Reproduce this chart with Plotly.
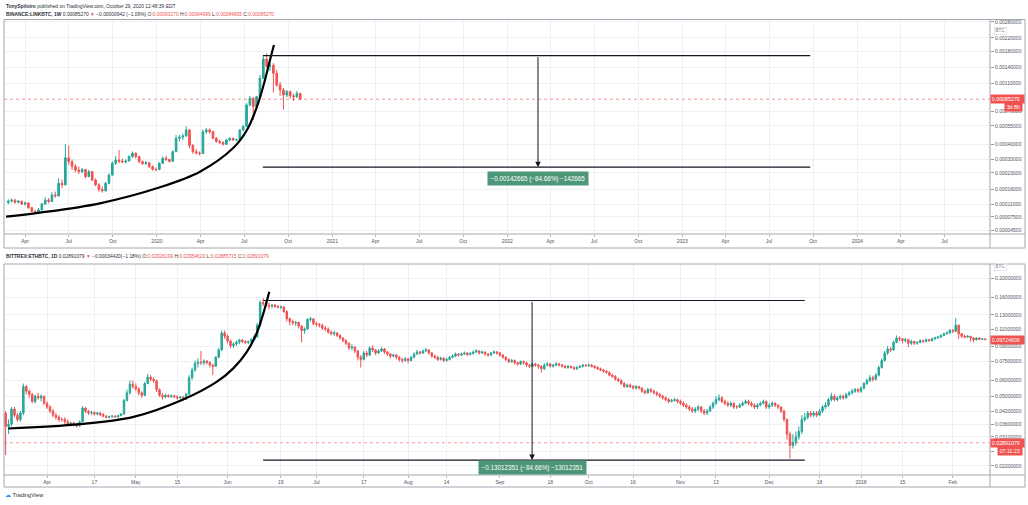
import math
import pandas as pd
import plotly.graph_objects as go

# ---------------- LINK/BTC weekly (Binance) ----------------
link_first_week = "2019-02-25"
link_open = [0.000116, 0.000120, 0.000123, 0.000116, 0.000119, 0.000111, 0.000114, 0.000100, 0.000090, 0.000087,
             0.000094, 0.000111, 0.000123, 0.000119, 0.000140, 0.000137, 0.000184, 0.000178, 0.000310, 0.000288,
             0.000262, 0.000244, 0.000236, 0.000246, 0.000213, 0.000236, 0.000198, 0.000178, 0.000160, 0.000155,
             0.000184, 0.000220, 0.000279, 0.000297, 0.000290, 0.000286, 0.000292, 0.000317, 0.000338, 0.000317,
             0.000288, 0.000277, 0.000282, 0.000261, 0.000248, 0.000246, 0.000279, 0.000307, 0.000300, 0.000290,
             0.000348, 0.000443, 0.000452, 0.000462, 0.000512, 0.000390, 0.000348, 0.000340, 0.000336, 0.000497,
             0.000512, 0.000497, 0.000443, 0.000418, 0.000412, 0.000398, 0.000430, 0.000443, 0.000430, 0.000432,
             0.000512, 0.000543, 0.000777, 0.000866, 0.000755, 0.000888, 0.001188, 0.001600, 0.001430, 0.001450,
             0.001283, 0.001070, 0.000988, 0.000912, 0.000962, 0.000900, 0.000888, 0.000933]
link_high = [0.000125, 0.000128, 0.000127, 0.000124, 0.000122, 0.000118, 0.000116, 0.000103, 0.000094, 0.000099,
             0.000115, 0.000132, 0.000130, 0.000150, 0.000152, 0.000205, 0.000200, 0.000400, 0.000390, 0.000300,
             0.000275, 0.000262, 0.000255, 0.000250, 0.000245, 0.000240, 0.000205, 0.000185, 0.000172, 0.000190,
             0.000228, 0.000290, 0.000320, 0.000360, 0.000305, 0.000300, 0.000325, 0.000350, 0.000345, 0.000322,
             0.000295, 0.000292, 0.000286, 0.000268, 0.000258, 0.000285, 0.000318, 0.000322, 0.000305, 0.000355,
             0.000470, 0.000470, 0.000480, 0.000545, 0.000520, 0.000400, 0.000365, 0.000350, 0.000515, 0.000530,
             0.000525, 0.000505, 0.000452, 0.000432, 0.000420, 0.000438, 0.000450, 0.000448, 0.000440, 0.000520,
             0.000560, 0.000800, 0.000900, 0.000880, 0.000900, 0.001250, 0.001680, 0.001746, 0.001520, 0.001500,
             0.001350, 0.001120, 0.001020, 0.000990, 0.000980, 0.000930, 0.000975, 0.000950]
link_low = [0.000110, 0.000116, 0.000112, 0.000113, 0.000108, 0.000106, 0.000097, 0.000087, 0.000083, 0.000085,
            0.000092, 0.000108, 0.000113, 0.000117, 0.000131, 0.000135, 0.000165, 0.000176, 0.000270, 0.000245,
            0.000232, 0.000225, 0.000228, 0.000205, 0.000210, 0.000192, 0.000172, 0.000152, 0.000148, 0.000152,
            0.000180, 0.000215, 0.000270, 0.000280, 0.000280, 0.000278, 0.000288, 0.000310, 0.000305, 0.000280,
            0.000270, 0.000270, 0.000255, 0.000240, 0.000238, 0.000244, 0.000275, 0.000292, 0.000282, 0.000286,
            0.000345, 0.000420, 0.000430, 0.000455, 0.000370, 0.000335, 0.000330, 0.000325, 0.000334, 0.000480,
            0.000480, 0.000435, 0.000410, 0.000400, 0.000390, 0.000395, 0.000422, 0.000422, 0.000420, 0.000428,
            0.000500, 0.000540, 0.000760, 0.000606, 0.000740, 0.000880, 0.001170, 0.001400, 0.001330, 0.000950,
            0.001040, 0.000900, 0.000720, 0.000880, 0.000860, 0.000830, 0.000870, 0.000848]
link_close = [0.000120, 0.000123, 0.000116, 0.000119, 0.000111, 0.000114, 0.000100, 0.000090, 0.000087, 0.000094,
              0.000111, 0.000123, 0.000119, 0.000140, 0.000137, 0.000184, 0.000178, 0.000310, 0.000288, 0.000262,
              0.000244, 0.000236, 0.000246, 0.000213, 0.000236, 0.000198, 0.000178, 0.000160, 0.000155, 0.000184,
              0.000220, 0.000279, 0.000297, 0.000290, 0.000286, 0.000292, 0.000317, 0.000338, 0.000317, 0.000288,
              0.000277, 0.000282, 0.000261, 0.000248, 0.000246, 0.000279, 0.000307, 0.000300, 0.000290, 0.000348,
              0.000443, 0.000452, 0.000462, 0.000512, 0.000390, 0.000348, 0.000340, 0.000336, 0.000497, 0.000512,
              0.000497, 0.000443, 0.000418, 0.000412, 0.000398, 0.000430, 0.000443, 0.000430, 0.000432, 0.000512,
              0.000543, 0.000777, 0.000866, 0.000755, 0.000888, 0.001188, 0.001600, 0.001430, 0.001450, 0.001283,
              0.001070, 0.000988, 0.000912, 0.000962, 0.000900, 0.000888, 0.000933, 0.00085270]
link_last_price = 0.00085270
link_price_ticks = [0.0028, 0.0022, 0.0018, 0.0014, 0.0011, 0.0007, 0.00055, 0.0004, 0.0003,
                    0.00023, 0.00016, 0.00011, 0.000075, 0.000045]
link_time_ticks = ["2019-04-01", "2019-07-01", "2019-10-01", "2020-01-01", "2020-04-01", "2020-07-01",
                   "2020-10-01", "2021-01-01", "2021-04-01", "2021-07-01", "2021-10-01", "2022-01-01",
                   "2022-04-01", "2022-07-01", "2022-10-01", "2023-01-01", "2023-04-01", "2023-07-01",
                   "2023-10-01", "2024-01-01", "2024-04-01", "2024-07-01"]
link_time_labels = ["Apr", "Jul", "Oct", "2020", "Apr", "Jul", "Oct", "2021", "Apr", "Jul", "Oct", "2022",
                    "Apr", "Jul", "Oct", "2023", "Apr", "Jul", "Oct", "2024", "Apr", "Jul"]
link_curve_dates = ["2019-02-20 07:00", "2019-05-01 19:00", "2019-09-04", "2020-01-07 07:00",
                    "2020-03-30 19:00", "2020-06-07 14:00", "2020-07-06 22:00", "2020-07-27 17:00",
                    "2020-08-13 10:00", "2020-08-23 22:00", "2020-09-01 05:00"]
link_curve_prices = [0.0000757, 0.0000861, 0.0001131, 0.0001683, 0.0002358, 0.00037, 0.000512,
                     0.000755, 0.001157, 0.001576, 0.001979]
link_measure_dates = ["2020-08-09", "2022-03-06", "2023-09-25"]   # start, arrow, end
link_measure_prices = [0.00168515, 0.00025850]                    # from, to
link_measure_text = "−0.00142665 (−84.66%) −142665"

# ---------------- ETH/BTC daily (Bittrex) ----------------
eth_first_day = "2017-03-18"
eth_open = [.0410, .0350, .0360, .0430, .0400, .0380, .0410, .0560, .0530, .0510,
            .0470, .0500, .0490, .0500, .0460, .0440, .0420, .0400, .0390, .0380,
            .0380, .0370, .0360, .0365, .0358, .0352, .0370, .0435, .0418, .0410,
            .0412, .0405, .0410, .0402, .0395, .0390, .0393, .0396, .0392, .0398,
            .0406, .0475, .0520, .0575, .0560, .0545, .0520, .0505, .0580, .0625,
            .0610, .0600, .0540, .0505, .0495, .0505, .0498, .0502, .0496, .0490,
            .0495, .0482, .0512, .0620, .0680, .0735, .0745, .0740, .0755, .0742,
            .0720, .0710, .0790, .0860, .1050, .1010, .0955, .0905, .0925, .0945,
            .0965, .0950, .0940, .0948, .0970, .1005, .1150, .1500, .1480, .1450,
            .1440, .1455, .1430, .1420, .1425, .1350, .1240, .1200, .1180, .1190,
            .1140, .1080, .1100, .1230, .1240, .1170, .1160, .1150, .1110, .1100,
            .1060, .1040, .1050, .1020, .0990, .0960, .0930, .0880, .0890, .0850,
            .0790, .0770, .0830, .0810, .0880, .0860, .0830, .0850, .0870, .0840,
            .0820, .0800, .0810, .0790, .0770, .0760, .0775, .0760, .0790, .0820,
            .0840, .0830, .0850, .0860, .0830, .0800, .0790, .0770, .0780, .0760,
            .0770, .0790, .0800, .0820, .0810, .0820, .0830, .0815, .0825, .0840,
            .0850, .0830, .0840, .0820, .0810, .0830, .0840, .0830, .0810, .0790,
            .0770, .0750, .0760, .0740, .0730, .0750, .0740, .0720, .0710, .0730,
            .0720, .0710, .0690, .0720, .0730, .0710, .0720, .0730, .0720, .0710,
            .0700, .0710, .0700, .0690, .0700, .0710, .0720, .0715, .0720, .0710,
            .0700, .0690, .0680, .0670, .0660, .0640, .0630, .0610, .0600, .0580,
            .0560, .0570, .0560, .0550, .0560, .0550, .0530, .0520, .0540, .0530,
            .0520, .0510, .0500, .0490, .0480, .0470, .0475, .0480, .0470, .0460,
            .0450, .0440, .0430, .0420, .0430, .0440, .0420, .0410, .0420, .0440,
            .0460, .0480, .0490, .0470, .0460, .0450, .0460, .0440, .0440, .0450,
            .0460, .0470, .0460, .0450, .0440, .0450, .0460, .0470, .0440, .0450,
            .0460, .0450, .0440, .0420, .0380, .0320, .0280, .0290, .0310, .0330,
            .0380, .0390, .0410, .0400, .0410, .0400, .0420, .0440, .0450, .0480,
            .0500, .0480, .0490, .0500, .0490, .0510, .0520, .0530, .0540, .0530,
            .0550, .0580, .0600, .0620, .0610, .0640, .0700, .0760, .0830, .0870,
            .0860, .0940, .0990, .0980, .0960, .0970, .0930, .0950, .0930, .0940,
            .0960, .0950, .0970, .0960, .0980, .0990, .1000, .1020, .1040, .1050,
            .1080, .1070, .1150, .1040, .1010, .1000, .1010, .0990, .0970, .0990,
            .0975, .0980]
eth_high = [.0420, .0380, .0440, .0440, .0410, .0420, .0580, .0570, .0540, .0520,
            .0510, .0520, .0510, .0500, .0470, .0450, .0430, .0410, .0400, .0390,
            .0390, .0380, .0370, .0370, .0365, .0375, .0445, .0440, .0425, .0420,
            .0418, .0415, .0415, .0410, .0400, .0398, .0400, .0400, .0402, .0410,
            .0485, .0540, .0600, .0600, .0580, .0555, .0530, .0590, .0650, .0640,
            .0625, .0605, .0548, .0520, .0515, .0512, .0510, .0508, .0505, .0500,
            .0500, .0520, .0640, .0700, .0760, .0780, .0850, .0770, .0765, .0755,
            .0730, .0800, .0880, .1080, .1080, .1030, .0970, .0940, .0960, .0980,
            .0980, .0965, .0960, .0990, .1030, .1180, .1540, .1580, .1520, .1500,
            .1470, .1480, .1460, .1450, .1440, .1370, .1260, .1230, .1210, .1200,
            .1150, .1120, .1250, .1270, .1250, .1200, .1180, .1170, .1140, .1120,
            .1080, .1075, .1060, .1035, .1000, .0975, .0940, .0920, .0900, .0860,
            .0810, .0850, .0850, .0900, .0910, .0870, .0870, .0890, .0880, .0850,
            .0830, .0825, .0820, .0800, .0785, .0790, .0785, .0800, .0835, .0860,
            .0850, .0865, .0880, .0870, .0840, .0815, .0800, .0795, .0790, .0785,
            .0800, .0815, .0835, .0830, .0835, .0845, .0840, .0840, .0855, .0870,
            .0860, .0855, .0845, .0830, .0840, .0855, .0850, .0840, .0820, .0800,
            .0780, .0775, .0770, .0750, .0760, .0760, .0750, .0730, .0740, .0740,
            .0730, .0720, .0735, .0745, .0740, .0730, .0745, .0740, .0730, .0720,
            .0720, .0715, .0710, .0710, .0720, .0730, .0730, .0735, .0730, .0720,
            .0710, .0700, .0690, .0680, .0670, .0650, .0640, .0620, .0610, .0590,
            .0580, .0580, .0570, .0570, .0565, .0555, .0540, .0550, .0550, .0540,
            .0530, .0520, .0510, .0500, .0490, .0485, .0490, .0485, .0480, .0470,
            .0460, .0450, .0440, .0440, .0450, .0445, .0430, .0430, .0450, .0470,
            .0500, .0510, .0500, .0480, .0470, .0470, .0465, .0450, .0460, .0470,
            .0480, .0480, .0470, .0460, .0460, .0470, .0480, .0475, .0460, .0470,
            .0465, .0455, .0445, .0425, .0385, .0330, .0320, .0330, .0350, .0400,
            .0410, .0420, .0420, .0420, .0420, .0430, .0450, .0465, .0490, .0520,
            .0510, .0500, .0510, .0510, .0520, .0530, .0545, .0550, .0550, .0560,
            .0590, .0615, .0640, .0635, .0655, .0715, .0780, .0850, .0900, .0890,
            .0960, .1020, .1010, .0990, .0990, .0980, .0970, .0960, .0955, .0975,
            .0970, .0985, .0980, .0995, .1005, .1015, .1035, .1055, .1070, .1100,
            .1100, .1250, .1160, .1050, .1030, .1025, .1015, .1000, .1000, .0995,
            .0990, .0985]
eth_low = [.0250, .0320, .0350, .0390, .0370, .0370, .0400, .0510, .0490, .0460,
           .0460, .0480, .0470, .0450, .0430, .0410, .0390, .0380, .0370, .0370,
           .0360, .0350, .0350, .0350, .0345, .0350, .0368, .0410, .0400, .0400,
           .0398, .0400, .0395, .0390, .0385, .0385, .0388, .0388, .0388, .0395,
           .0400, .0470, .0510, .0545, .0530, .0505, .0490, .0500, .0575, .0595,
           .0585, .0525, .0495, .0480, .0488, .0490, .0490, .0488, .0480, .0482,
           .0475, .0478, .0508, .0605, .0665, .0700, .0720, .0720, .0725, .0700,
           .0640, .0705, .0780, .0850, .0980, .0930, .0880, .0880, .0900, .0920,
           .0930, .0925, .0920, .0935, .0960, .0990, .1130, .1440, .1420, .1380,
           .1400, .1410, .1400, .1390, .1330, .1200, .1150, .1150, .1140, .1110,
           .0940, .1040, .1090, .1200, .1150, .1130, .1120, .1090, .1070, .1040,
           .1020, .1010, .1000, .0970, .0940, .0910, .0860, .0860, .0830, .0760,
           .0700, .0760, .0790, .0800, .0840, .0810, .0820, .0840, .0820, .0800,
           .0780, .0790, .0770, .0750, .0740, .0750, .0735, .0750, .0780, .0810,
           .0815, .0820, .0840, .0815, .0785, .0775, .0755, .0760, .0745, .0750,
           .0760, .0780, .0790, .0795, .0800, .0810, .0800, .0805, .0815, .0830,
           .0815, .0820, .0805, .0795, .0800, .0820, .0815, .0795, .0775, .0755,
           .0735, .0740, .0725, .0715, .0720, .0725, .0705, .0695, .0700, .0705,
           .0690, .0660, .0680, .0710, .0700, .0700, .0710, .0710, .0700, .0690,
           .0690, .0690, .0680, .0680, .0695, .0700, .0705, .0705, .0700, .0690,
           .0680, .0670, .0660, .0650, .0630, .0620, .0600, .0590, .0570, .0550,
           .0550, .0550, .0540, .0540, .0540, .0520, .0510, .0515, .0520, .0510,
           .0500, .0490, .0480, .0470, .0460, .0465, .0470, .0460, .0450, .0440,
           .0430, .0420, .0410, .0410, .0420, .0410, .0400, .0400, .0415, .0430,
           .0450, .0470, .0460, .0450, .0440, .0440, .0430, .0430, .0435, .0445,
           .0455, .0450, .0440, .0430, .0430, .0445, .0455, .0430, .0430, .0440,
           .0440, .0430, .0410, .0370, .0300, .0240, .0270, .0280, .0300, .0320,
           .0370, .0380, .0390, .0390, .0390, .0395, .0410, .0430, .0440, .0470,
           .0470, .0470, .0480, .0480, .0485, .0500, .0510, .0520, .0520, .0520,
           .0540, .0570, .0590, .0595, .0600, .0630, .0690, .0750, .0810, .0840,
           .0850, .0930, .0950, .0930, .0940, .0890, .0910, .0910, .0915, .0930,
           .0935, .0940, .0945, .0950, .0970, .0980, .0990, .1010, .1030, .1040,
           .1050, .1060, .0980, .0990, .0985, .0990, .0950, .0940, .0960, .0965,
           .0965, .0962]
eth_close = [.0350, .0360, .0430, .0400, .0380, .0410, .0560, .0530, .0510, .0470,
             .0500, .0490, .0500, .0460, .0440, .0420, .0400, .0390, .0380, .0380,
             .0370, .0360, .0365, .0358, .0352, .0370, .0435, .0418, .0410, .0412,
             .0405, .0410, .0402, .0395, .0390, .0393, .0396, .0392, .0398, .0406,
             .0475, .0520, .0575, .0560, .0545, .0520, .0505, .0580, .0625, .0610,
             .0600, .0540, .0505, .0495, .0505, .0498, .0502, .0496, .0490, .0495,
             .0482, .0512, .0620, .0680, .0735, .0745, .0740, .0755, .0742, .0720,
             .0710, .0790, .0860, .1050, .1010, .0955, .0905, .0925, .0945, .0965,
             .0950, .0940, .0948, .0970, .1005, .1150, .1500, .1480, .1450, .1440,
             .1455, .1430, .1420, .1425, .1350, .1240, .1200, .1180, .1190, .1140,
             .1080, .1100, .1230, .1240, .1170, .1160, .1150, .1110, .1100, .1060,
             .1040, .1050, .1020, .0990, .0960, .0930, .0880, .0890, .0850, .0790,
             .0770, .0830, .0810, .0880, .0860, .0830, .0850, .0870, .0840, .0820,
             .0800, .0810, .0790, .0770, .0760, .0775, .0760, .0790, .0820, .0840,
             .0830, .0850, .0860, .0830, .0800, .0790, .0770, .0780, .0760, .0770,
             .0790, .0800, .0820, .0810, .0820, .0830, .0815, .0825, .0840, .0850,
             .0830, .0840, .0820, .0810, .0830, .0840, .0830, .0810, .0790, .0770,
             .0750, .0760, .0740, .0730, .0750, .0740, .0720, .0710, .0730, .0720,
             .0710, .0690, .0720, .0730, .0710, .0720, .0730, .0720, .0710, .0700,
             .0710, .0700, .0690, .0700, .0710, .0720, .0715, .0720, .0710, .0700,
             .0690, .0680, .0670, .0660, .0640, .0630, .0610, .0600, .0580, .0560,
             .0570, .0560, .0550, .0560, .0550, .0530, .0520, .0540, .0530, .0520,
             .0510, .0500, .0490, .0480, .0470, .0475, .0480, .0470, .0460, .0450,
             .0440, .0430, .0420, .0430, .0440, .0420, .0410, .0420, .0440, .0460,
             .0480, .0490, .0470, .0460, .0450, .0460, .0440, .0440, .0450, .0460,
             .0470, .0460, .0450, .0440, .0450, .0460, .0470, .0440, .0450, .0460,
             .0450, .0440, .0420, .0380, .0320, .0280, .0290, .0310, .0330, .0380,
             .0390, .0410, .0400, .0410, .0400, .0420, .0440, .0450, .0480, .0500,
             .0480, .0490, .0500, .0490, .0510, .0520, .0530, .0540, .0530, .0550,
             .0580, .0600, .0620, .0610, .0640, .0700, .0760, .0830, .0870, .0860,
             .0940, .0990, .0980, .0960, .0970, .0930, .0950, .0930, .0940, .0960,
             .0950, .0970, .0960, .0980, .0990, .1000, .1020, .1040, .1050, .1080,
             .1070, .1150, .1040, .1010, .1000, .1010, .0990, .0970, .0990, .0975,
             .0980, .09724609]
eth_last_price = 0.02891079
eth_last_visible = 0.09724609
eth_price_ticks = [0.2, 0.16, 0.13, 0.11, 0.09, 0.075, 0.06, 0.05, 0.042, 0.036, 0.031, 0.026, 0.022]
eth_hidden_ticks = [0.026]          # label covered by the countdown tag in the reference
eth_time_ticks = ["2017-04-01", "2017-04-17", "2017-05-01", "2017-05-15", "2017-06-01", "2017-06-19",
                  "2017-07-01", "2017-07-17", "2017-08-01", "2017-08-14", "2017-09-01", "2017-09-18",
                  "2017-10-01", "2017-10-16", "2017-11-01", "2017-11-13", "2017-12-01", "2017-12-18",
                  "2018-01-01", "2018-01-15", "2018-02-01"]
eth_time_labels = ["Apr", "17", "May", "15", "Jun", "19", "Jul", "17", "Aug", "14", "Sep", "18",
                   "Oct", "16", "Nov", "13", "Dec", "18", "2018", "15", "Feb"]
eth_curve_dates = ["2017-03-18 22:00", "2017-04-12 02:00", "2017-04-30 05:00", "2017-05-17",
                   "2017-05-28 07:00", "2017-06-02 22:00", "2017-06-07 12:00", "2017-06-10 19:00",
                   "2017-06-13 02:00", "2017-06-15 02:00"]
eth_curve_prices = [0.0342, 0.0360, 0.0392, 0.0481, 0.0591, 0.0693, 0.0841, 0.1044, 0.1321, 0.1702]
eth_measure_dates = ["2017-06-13", "2017-09-11 21:00", "2017-12-13"]
eth_measure_prices = [0.153701, 0.023577]
eth_measure_text = "−0.13012351 (−84.66%) −13012351"

# ---------------- helpers / style ----------------
W, H = 1028, 505
GREEN, RED = "#26a69a", "#ef5350"
FONT = "Liberation Sans, Arial, sans-serif"
GRID = "#eef0f5"
TXT = "#50535e"
BORDER = "#a3a6af"


def tv(p):
    """TradingView logarithmic price coordinate."""
    return math.log10(p + 0.0001)


def tvl(seq):
    return [tv(v) for v in seq]


def fx(px):
    return px / W


def fy(py):
    return 1 - py / H


link_dates = pd.date_range(link_first_week, periods=len(link_close), freq="7D")
eth_dates = pd.date_range(eth_first_day, periods=len(eth_close), freq="D")

fig = go.Figure()

candle_style = dict(
    increasing=dict(line=dict(color=GREEN, width=1), fillcolor=GREEN),
    decreasing=dict(line=dict(color=RED, width=1), fillcolor=RED),
    hoverinfo="skip", showlegend=False,
)
fig.add_trace(go.Candlestick(x=link_dates, open=tvl(link_open), high=tvl(link_high),
                             low=tvl(link_low), close=tvl(link_close), xaxis="x", yaxis="y",
                             **candle_style))
fig.add_trace(go.Candlestick(x=eth_dates, open=tvl(eth_open), high=tvl(eth_high),
                             low=tvl(eth_low), close=tvl(eth_close), xaxis="x2", yaxis="y2",
                             **candle_style))

line_black = "#131722"
# parabolic curves
fig.add_trace(go.Scatter(x=link_curve_dates, y=tvl(link_curve_prices), mode="lines",
                         line=dict(color="#000000", width=2.2, shape="spline", smoothing=1.0),
                         xaxis="x", yaxis="y", hoverinfo="skip", showlegend=False))
fig.add_trace(go.Scatter(x=eth_curve_dates, y=tvl(eth_curve_prices), mode="lines",
                         line=dict(color="#000000", width=2.2, shape="spline", smoothing=1.0),
                         xaxis="x2", yaxis="y2", hoverinfo="skip", showlegend=False))

# measure tool horizontal lines
for dates, prices, xa, ya in [(link_measure_dates, link_measure_prices, "x", "y"),
                              (eth_measure_dates, eth_measure_prices, "x2", "y2")]:
    for p in prices:
        fig.add_trace(go.Scatter(x=[dates[0], dates[2]], y=[tv(p), tv(p)], mode="lines",
                                 line=dict(color=line_black, width=1.2), xaxis=xa, yaxis=ya,
                                 hoverinfo="skip", showlegend=False))

annotations = []
shapes = []

# arrows + measure labels
for dates, prices, text, xa, ya, shift in [
        (link_measure_dates, link_measure_prices, link_measure_text, "x", "y", -11.5),
        (eth_measure_dates, eth_measure_prices, eth_measure_text, "x2", "y2", -7.5)]:
    annotations.append(dict(x=dates[1], y=tv(prices[1]), xref=xa, yref=ya,
                            ax=dates[1], ay=tv(prices[0]), axref=xa, ayref=ya,
                            showarrow=True, arrowhead=2, arrowsize=1.1, arrowwidth=1,
                            arrowcolor=line_black, text=""))
    annotations.append(dict(x=dates[1], y=tv(prices[1]), xref=xa, yref=ya, yshift=shift,
                            showarrow=False, text=text, bgcolor="#4e9678", borderpad=2.5,
                            font=dict(family=FONT, size=6.3, color="white")))

# current price dashed lines
shapes.append(dict(type="line", xref="x domain", yref="y", x0=0, x1=1,
                   y0=tv(link_last_price), y1=tv(link_last_price),
                   line=dict(color=RED, width=1, dash="dot"), opacity=0.6))
shapes.append(dict(type="line", xref="x2 domain", yref="y2", x0=0, x1=1,
                   y0=tv(eth_last_price), y1=tv(eth_last_price),
                   line=dict(color=RED, width=1, dash="dot"), opacity=0.6))


# price tags on the scale
def tag(text, yref, yval, width, xanchor="left", xpos=990, yshift=0):
    return dict(x=fx(xpos), xref="paper", xanchor=xanchor, y=yval, yref=yref, yshift=yshift,
                showarrow=False, text=text, bgcolor=RED, width=width, borderpad=0.8,
                align="left" if xanchor == "left" else "center",
                font=dict(family=FONT, size=5.3, color="white"))


annotations.append(tag("0.00085270", "y", tv(link_last_price), 31))
annotations.append(tag("3d 8h", "y", tv(link_last_price), 15, xanchor="right", xpos=1023, yshift=-8))
annotations.append(tag("0.09724609", "y2", tv(eth_last_visible), 31))
annotations.append(tag("0.02891079", "y2", tv(eth_last_price), 31))
annotations.append(tag("07:11:23", "y2", tv(eth_last_price), 22, xanchor="right", xpos=1023, yshift=-8))

# BTC unit labels
for ypx in (26.5, 266.5):
    annotations.append(dict(x=fx(1007), y=fy(ypx), xref="paper", yref="paper", showarrow=False,
                            text="BTC", bgcolor="white", bordercolor="#d6d8de", borderwidth=0.6,
                            borderpad=0.8, font=dict(family=FONT, size=4.6, color="#787b86")))

# headers
red = lambda s: f"<span style='color:{RED}'>{s}</span>"
hdr1 = "<b>TonySpilotro</b> published on TradingView.com, October 29, 2020 12:48:39 EDT"
hdr2 = ("<b>BINANCE:LINKBTC, 1W</b> 0.00085270 " + red("▼") + " −0.00000942 (−1.09%) "
        "O:" + red("0.00093270") + " H:" + red("0.00094999") + " L:" + red("0.00084805") +
        " C:" + red("0.00085270"))
hdr3 = ("<b>BITTREX:ETHBTC, 1D</b> 0.02891079 " + red("▼") + " −0.00034420(−1.18%) "
        "O:" + red("0.02926199") + " H:" + red("0.02954620") + " L:" + red("0.02885715") +
        " C:" + red("0.02891079"))
for txt, ypx in ((hdr1, 6), (hdr2, 14), (hdr3, 256.5)):
    annotations.append(dict(x=fx(4), y=fy(ypx), xref="paper", yref="paper", xanchor="left",
                            yanchor="middle", showarrow=False, text=txt,
                            font=dict(family=FONT, size=4.9, color="#2a2e39")))

# TradingView logo
annotations.append(dict(x=fx(3), y=fy(495), xref="paper", yref="paper", xanchor="left",
                        yanchor="middle", showarrow=False,
                        text="<span style='color:#2196f3'>☁</span> TradingView",
                        font=dict(family=FONT, size=5.6, color="#2a2e39")))

# panel frames
for top, plot_bottom, bottom in ((19.5, 234, 248), (264, 475, 487)):
    shapes.append(dict(type="rect", xref="paper", yref="paper", x0=fx(4), x1=fx(1025),
                       y0=fy(bottom), y1=fy(top), line=dict(color=BORDER, width=1)))
    shapes.append(dict(type="line", xref="paper", yref="paper", x0=fx(990), x1=fx(990),
                       y0=fy(bottom), y1=fy(top), line=dict(color=BORDER, width=1)))
    shapes.append(dict(type="line", xref="paper", yref="paper", x0=fx(4), x1=fx(1025),
                       y0=fy(plot_bottom), y1=fy(plot_bottom), line=dict(color=BORDER, width=1)))

tickfont = dict(family=FONT, size=5, color=TXT)
xcommon = dict(type="date", showgrid=True, gridcolor=GRID, gridwidth=1, zeroline=False,
               showline=False, ticks="outside", ticklen=2, tickcolor="#b2b5be",
               tickfont=tickfont, rangeslider=dict(visible=False), domain=[fx(4), fx(990)])
ycommon = dict(side="right", showgrid=True, gridcolor=GRID, gridwidth=1, zeroline=False,
               showline=False, ticks="outside", ticklen=3, tickcolor="#9598a1",
               tickfont=tickfont)

fig.update_layout(
    width=W, height=H, margin=dict(l=0, r=0, t=0, b=0),
    paper_bgcolor="white", plot_bgcolor="white", showlegend=False,
    font=dict(family=FONT),
    xaxis=dict(**xcommon, anchor="y", range=["2019-02-16", "2024-10-04"],
               tickvals=link_time_ticks, ticktext=link_time_labels),
    yaxis=dict(**ycommon, anchor="x", domain=[fy(234), fy(19.5)],
               range=[tv(0.000037), tv(0.0029)],
               tickvals=tvl(link_price_ticks), ticktext=[f"{v:.8f}" for v in link_price_ticks]),
    xaxis2=dict(**xcommon, anchor="y2", range=["2017-03-17 11:00", "2018-02-13 14:00"],
                tickvals=eth_time_ticks, ticktext=eth_time_labels),
    yaxis2=dict(**ycommon, anchor="x2", domain=[fy(475), fy(264)],
                range=[tv(0.01978), tv(0.2358)],
                tickvals=tvl(eth_price_ticks),
                ticktext=["" if v in eth_hidden_ticks else f"{v:.8f}" for v in eth_price_ticks]),
    annotations=annotations, shapes=shapes,
)

fig.write_html("out.html", config={"displayModeBar": False},
               post_script="document.body.style.margin='0';")
